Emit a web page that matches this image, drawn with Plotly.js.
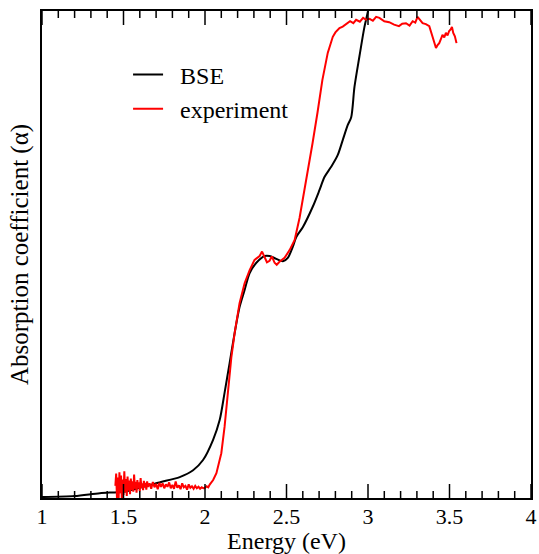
<!DOCTYPE html>
<html>
<head>
<meta charset="utf-8">
<script src="https://cdn.plot.ly/plotly-3.0.1.min.js"></script>
<style>html,body{margin:0;padding:0;background:#fff;}#chart{width:539px;height:554px;}</style>
</head>
<body>
<div id="chart"></div>
<script>
// BSE (theory) absorption curve
const bseEnergy = [1.0, 1.2, 1.355, 1.5, 1.6, 1.72, 1.845, 1.927, 1.988, 2.049, 2.09, 2.12, 2.151, 2.182, 2.212, 2.243, 2.274, 2.315, 2.366, 2.396, 2.437, 2.478, 2.508, 2.539, 2.56, 2.6, 2.661, 2.702, 2.733, 2.774, 2.814, 2.845, 2.876, 2.897, 2.917, 2.947, 2.978, 3.0, 3.05];
const bseAbs = [0.2, 0.4, 1.0, 1.3, 2.1, 3.2, 4.3, 5.7, 7.8, 11.9, 16.0, 21.6, 27.7, 33.9, 39.2, 42.7, 46.2, 48.3, 49.7, 49.7, 49.1, 48.6, 49.3, 51.6, 53.6, 55.6, 59.8, 63.2, 65.9, 68.0, 70.4, 73.5, 76.6, 78.2, 84.4, 90.6, 96.7, 100.0, 110.0];

// Experimental absorption curve
const expEnergy = [1.450,1.455,1.460,1.465,1.470,1.475,1.480,1.485,1.490,1.495,1.500,1.505,1.510,1.515,1.520,1.525,1.530,1.535,1.540,1.545,1.550,1.555,1.560,1.565,1.570,1.575,1.580,1.585,1.590,1.595,1.600,1.605,1.610,1.615,1.620,1.625,1.630,1.635,1.640,1.645,1.650,1.66,1.67,1.68,1.69,1.70,1.71,1.72,1.73,1.74,1.75,1.76,1.77,1.78,1.79,1.80,1.81,1.82,1.83,1.84,1.85,1.86,1.87,1.88,1.89,1.90,1.91,1.92,1.93,1.94,1.95,1.96,1.97,1.98,1.99,2.00,2.01,2.02,2.03,
  2.05,2.07,2.10,2.12,2.14,2.162,2.182,2.212,2.243,2.274,2.304,2.335,2.35,2.366,2.38,2.396,2.41,2.427,2.44,2.457,2.488,2.519,2.55,2.58,2.60,2.63,2.66,2.69,2.72,2.753,2.784,2.80,2.825,2.845,2.866,2.89,2.91,2.927,2.95,2.97,2.988,3.01,3.03,3.05,3.07,3.1,3.13,3.16,3.19,3.21,3.233,3.255,3.274,3.29,3.304,3.32,3.335,3.355,3.376,3.396,3.417,3.427,3.437,3.447,3.457,3.468,3.478,3.488,3.498,3.507,3.515,3.523,3.533,3.543];
const expAbs = [2.5,5.0,0.0,4.2,-0.3,5.3,1.0,4.6,-0.5,3.8,0.6,5.5,1.2,3.9,0.4,4.4,1.5,3.6,0.8,4.0,1.6,3.4,1.3,4.8,1.9,3.3,1.1,3.7,2.0,3.2,1.4,4.1,2.1,3.0,1.6,3.5,2.2,3.1,1.7,3.4,2.3,3.0,1.9,3.3,2.2,2.9,1.8,3.1,2.3,3.0,2.0,2.8,2.3,3.2,2.0,2.7,1.9,3.4,2.1,2.6,1.8,3.0,2.2,2.5,1.7,2.8,2.1,2.4,1.9,2.5,2.0,2.3,1.9,2.2,2.0,2.1,2.4,2.2,2.8,
  3.7,5.1,9.2,14.6,22.2,29.0,33.9,40.0,44.1,46.8,48.9,49.7,50.6,49.3,48.4,48.7,49.6,48.3,47.9,48.5,49.3,50.9,53.0,57.5,61.2,66.7,72.9,79.1,85.8,91.4,94.7,95.6,96.5,96.8,97.3,97.9,97.5,98.2,97.8,98.6,98.2,98.4,98.0,98.8,98.6,97.9,97.7,97.2,96.9,97.4,97.5,97.0,97.9,97.6,98.8,98.2,97.5,97.3,96.9,94.7,92.4,93.0,93.4,94.2,95.1,94.6,95.5,95.0,95.9,96.2,96.7,95.5,94.8,93.4];

// Axis tick values (energy, eV)
const majorTicks = [1, 1.5, 2, 2.5, 3, 3.5, 4];
const minorTicks = [1.1, 1.2, 1.3, 1.4, 1.6, 1.7, 1.8, 1.9, 2.1, 2.2, 2.3, 2.4, 2.6, 2.7, 2.8, 2.9, 3.1, 3.2, 3.3, 3.4, 3.6, 3.7, 3.8, 3.9];

const serif = 'Times New Roman';
const plotH = 554 - 11 - 56;

// inside tick marks (bottom and top edges) drawn through the x axis scale,
// on a hidden overlay y axis whose range is the plot height in pixels
const tickX = [], tickY = [];
function addTicks(vals, len) {
  vals.forEach(function (v) {
    tickX.push(v, v, null, v, v, null);
    tickY.push(0, len, null, plotH, plotH - len, null);
  });
}
addTicks(majorTicks, 14);
addTicks(minorTicks, 7);

const traces = [
  {x: bseEnergy, y: bseAbs, type: 'scatter', mode: 'lines', name: '\u00a0\u00a0BSE',
   line: {color: '#000000', width: 2, shape: 'spline', smoothing: 0.8}, legendgroup: 'a'},
  {x: expEnergy, y: expAbs, type: 'scatter', mode: 'lines', name: '\u00a0\u00a0experiment',
   line: {color: '#ff0000', width: 2}, legendgroup: 'b'},
  {x: tickX, y: tickY, xaxis: 'x', yaxis: 'y2', type: 'scatter', mode: 'lines', connectgaps: false,
   line: {color: '#000000', width: 1.5}, showlegend: false, hoverinfo: 'skip'}
];

const layout = {
  width: 539, height: 554,
  margin: {l: 42, r: 8, t: 11, b: 56},
  paper_bgcolor: '#ffffff', plot_bgcolor: '#ffffff',
  font: {family: serif, color: '#000000', size: 22},
  showlegend: true,
  legend: {x: 0.176, y: 0.915, xanchor: 'left', yanchor: 'top', bgcolor: 'rgba(0,0,0,0)',
           font: {family: serif, size: 24, color: '#000000'}, traceorder: 'grouped', tracegroupgap: 0},
  xaxis: {
    range: [1, 4], tickmode: 'array', tickvals: majorTicks, ticktext: majorTicks.map(String), ticks: '',
    showline: true, linecolor: '#000000', linewidth: 2, mirror: true, showgrid: false, zeroline: false,
    tickfont: {family: serif, size: 22}, ticklabelstandoff: -2,
    title: {text: 'Energy (eV)', font: {family: serif, size: 24}, standoff: 6}
  },
  yaxis: {
    range: [0, 100], showticklabels: false, ticks: '', showline: true, linecolor: '#000000', linewidth: 2,
    mirror: true, showgrid: false, zeroline: false,
    title: {text: 'Absorption coefficient (α)', font: {family: serif, size: 25}, standoff: 4}
  },
  yaxis2: {overlaying: 'y', range: [0, plotH], visible: false, fixedrange: true}
};

Plotly.newPlot('chart', traces, layout, {displayModeBar: false});
</script>
</body>
</html>
